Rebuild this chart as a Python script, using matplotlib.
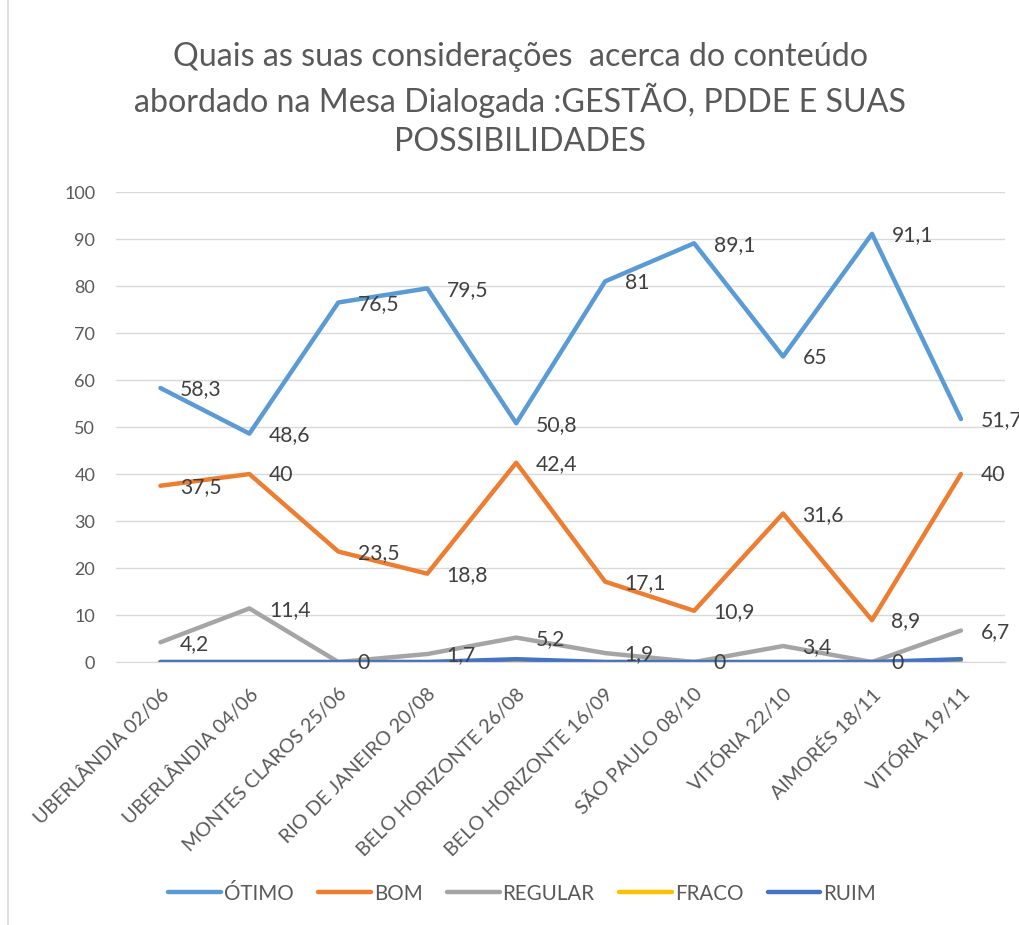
import matplotlib.pyplot as plt
import matplotlib.transforms as mtransforms
from matplotlib.patches import Rectangle

plt.rcParams['font.family'] = ['Lato', 'DejaVu Sans']

categories = ["UBERLÂNDIA 02/06", "UBERLÂNDIA 04/06", "MONTES CLAROS 25/06",
              "RIO DE JANEIRO 20/08", "BELO HORIZONTE 26/08", "BELO HORIZONTE 16/09",
              "SÃO PAULO 08/10", "VITÓRIA 22/10", "AIMORÉS 18/11", "VITÓRIA 19/11"]

otimo = [58.3, 48.6, 76.5, 79.5, 50.8, 81, 89.1, 65, 91.1, 51.7]
bom = [37.5, 40, 23.5, 18.8, 42.4, 17.1, 10.9, 31.6, 8.9, 40]
regular = [4.2, 11.4, 0, 1.7, 5.2, 1.9, 0, 3.4, 0, 6.7]
fraco = [0, 0, 0, 0, 0, 0, 0, 0, 0, 0]
ruim = [0, 0, 0, 0, 0.6, 0, 0, 0, 0, 0.6]

series = [("ÓTIMO", otimo, "#5B9BD5", True),
          ("BOM", bom, "#ED7D31", True),
          ("REGULAR", regular, "#A5A5A5", True),
          ("FRACO", fraco, "#FFC000", False),
          ("RUIM", ruim, "#4472C4", False)]

TXT = "#595959"


def fmt(v):
    s = ("%.1f" % v).rstrip("0").rstrip(".")
    return s.replace(".", ",")


fig = plt.figure(figsize=(10.2, 9.25), dpi=100)
ax = fig.add_axes([0.1137, 0.2843, 0.872, 0.5081])

x = list(range(len(categories)))
for name, vals, color, labeled in series:
    ax.plot(x, vals, color=color, lw=3.2, label=name, solid_capstyle="round",
            solid_joinstyle="round")
    if labeled:
        for xi, v in zip(x, vals):
            ax.annotate(fmt(v), (xi, v), xytext=(14, -1), textcoords="offset points",
                        ha="left", va="center", fontsize=15.2, color="#404040",
                        annotation_clip=False)

ax.set_xlim(-0.5, len(categories) - 0.5)
ax.set_ylim(0, 100)
ax.set_yticks(range(0, 101, 10))
ax.set_xticks(x)
ax.set_xticklabels(categories, rotation=45, ha="right", va="center",
                   rotation_mode="anchor")
ax.tick_params(axis="y", length=0, labelsize=13, colors=TXT, pad=15)
ax.tick_params(axis="x", length=0, labelsize=14.2, colors=TXT, pad=21)
shift = mtransforms.ScaledTranslation(4 / 72, 0, fig.dpi_scale_trans)
for lab in ax.get_xticklabels():
    lab.set_transform(lab.get_transform() + shift)
ax.grid(axis="y", color="#D9D9D9", lw=1)
ax.set_axisbelow(True)
for s in ["top", "right", "left"]:
    ax.spines[s].set_visible(False)
ax.spines["bottom"].set_color("#D9D9D9")

fig.text(0.51, 0.955, "Quais as suas considerações  acerca do conteúdo\n"
         "abordado na Mesa Dialogada :GESTÃO, PDDE E SUAS\nPOSSIBILIDADES",
         ha="center", va="top", fontsize=23.2, color=TXT, linespacing=1.37)

fig.legend(loc="center", bbox_to_anchor=(0.512, 0.034), ncol=5, frameon=False,
           fontsize=14.8, labelcolor=TXT, handlelength=2.55, handletextpad=0.15,
           columnspacing=1.2)

fig.add_artist(Rectangle((0.008, -0.01), 1.2, 1.2, transform=fig.transFigure,
                         fill=False, edgecolor="#D9D9D9", lw=1.2))

fig.savefig("out.png", dpi=100)
